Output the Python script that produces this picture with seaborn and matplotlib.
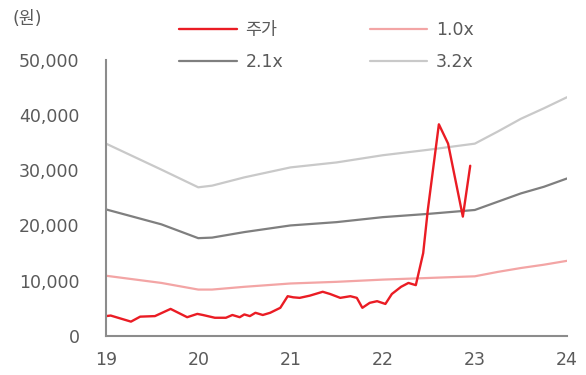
import matplotlib
matplotlib.use("Agg")
import matplotlib.pyplot as plt
import seaborn as sns
import pandas as pd

# Share price (won), fractional year on the x axis (19 = 2019)
price_t = [19.0, 19.05, 19.27, 19.37, 19.53, 19.7, 19.88, 19.99, 20.05, 20.18,
           20.3, 20.37, 20.45, 20.5, 20.56, 20.62, 20.7, 20.78, 20.89, 20.97,
           21.03, 21.1, 21.21, 21.35, 21.43, 21.54, 21.65, 21.72, 21.78, 21.86,
           21.94, 22.03, 22.1, 22.2, 22.28, 22.36, 22.44, 22.49, 22.61, 22.71,
           22.87, 22.95]
price = [3600, 3700, 2600, 3500, 3600, 4900, 3400, 4000, 3800, 3300,
         3300, 3800, 3400, 3900, 3600, 4200, 3800, 4200, 5100, 7200,
         7000, 6900, 7300, 8000, 7600, 6900, 7200, 6900, 5100, 6000,
         6300, 5800, 7600, 8900, 9600, 9200, 15000, 22800, 38300, 34800,
         21600, 30800]

# P/B band lines
band_t = [19.0, 19.6, 20.0, 20.15, 20.5, 21.0, 21.5, 22.0, 22.5, 23.0,
          23.25, 23.5, 23.75, 24.0]
band_10x = [10900, 9600, 8400, 8400, 8900, 9500, 9800, 10200, 10500, 10800,
            11600, 12300, 12900, 13600]
band_21x = [22900, 20200, 17700, 17800, 18800, 20000, 20600, 21500, 22100, 22800,
            24300, 25800, 27000, 28500]
band_32x = [34800, 30100, 26900, 27200, 28700, 30500, 31400, 32700, 33700, 34800,
            37000, 39300, 41200, 43200]

x_ticks = [19, 20, 21, 22, 23, 24]
y_ticks = [0, 10000, 20000, 30000, 40000, 50000]

sns.set_style("white")
plt.rcParams["font.family"] = ["DejaVu Sans", "Noto Sans CJK KR"]

text_color = "#5a5a5a"
axis_color = "#8c8c8c"

fig = plt.figure(figsize=(5.86, 3.75), dpi=100)
ax = fig.add_axes([0.181, 0.104, 0.7866, 0.737])

df_price = pd.DataFrame({"t": price_t, "v": price})
df_band = pd.DataFrame({"t": band_t, "b10": band_10x, "b21": band_21x, "b32": band_32x})

sns.lineplot(data=df_band, x="t", y="b32", ax=ax, color="#c9c9c9", lw=1.6, label="3.2x")
sns.lineplot(data=df_band, x="t", y="b21", ax=ax, color="#7f7f7f", lw=1.6, label="2.1x")
sns.lineplot(data=df_band, x="t", y="b10", ax=ax, color="#f3a5a5", lw=1.6, label="1.0x")
sns.lineplot(data=df_price, x="t", y="v", ax=ax, color="#ea1c24", lw=1.7, label="주가")

ax.set_xlim(19, 24)
ax.set_ylim(0, 50000)
ax.set_xticks(x_ticks)
ax.set_xticklabels([str(v) for v in x_ticks])
ax.set_yticks(y_ticks)
ax.set_yticklabels([f"{v:,}" for v in y_ticks])
ax.set_xlabel("")
ax.set_ylabel("")

for side in ["top", "right"]:
    ax.spines[side].set_visible(False)
for side in ["left", "bottom"]:
    ax.spines[side].set_color(axis_color)
    ax.spines[side].set_linewidth(1.5)
ax.tick_params(axis="both", direction="out", length=5, width=1.5, color=axis_color,
               labelcolor=text_color, labelsize=12.5)
ax.tick_params(axis="y", pad=14)
ax.tick_params(axis="x", pad=6)

handles, labels = ax.get_legend_handles_labels()
order = {lab: h for h, lab in zip(handles, labels)}
leg_labels = ["주가", "2.1x", "1.0x", "3.2x"]
ax.legend([order[k] for k in leg_labels], leg_labels, ncol=2, frameon=False,
          loc="center left", bbox_to_anchor=(0.125, 1.05), fontsize=12.5,
          handlelength=3.3, handletextpad=0.5, columnspacing=5.0, labelspacing=0.8,
          labelcolor=text_color)

fig.text(0.022, 0.948, "(원)", fontsize=12.5, color=text_color, va="center", ha="left")

fig.savefig("out.png", dpi=100)
